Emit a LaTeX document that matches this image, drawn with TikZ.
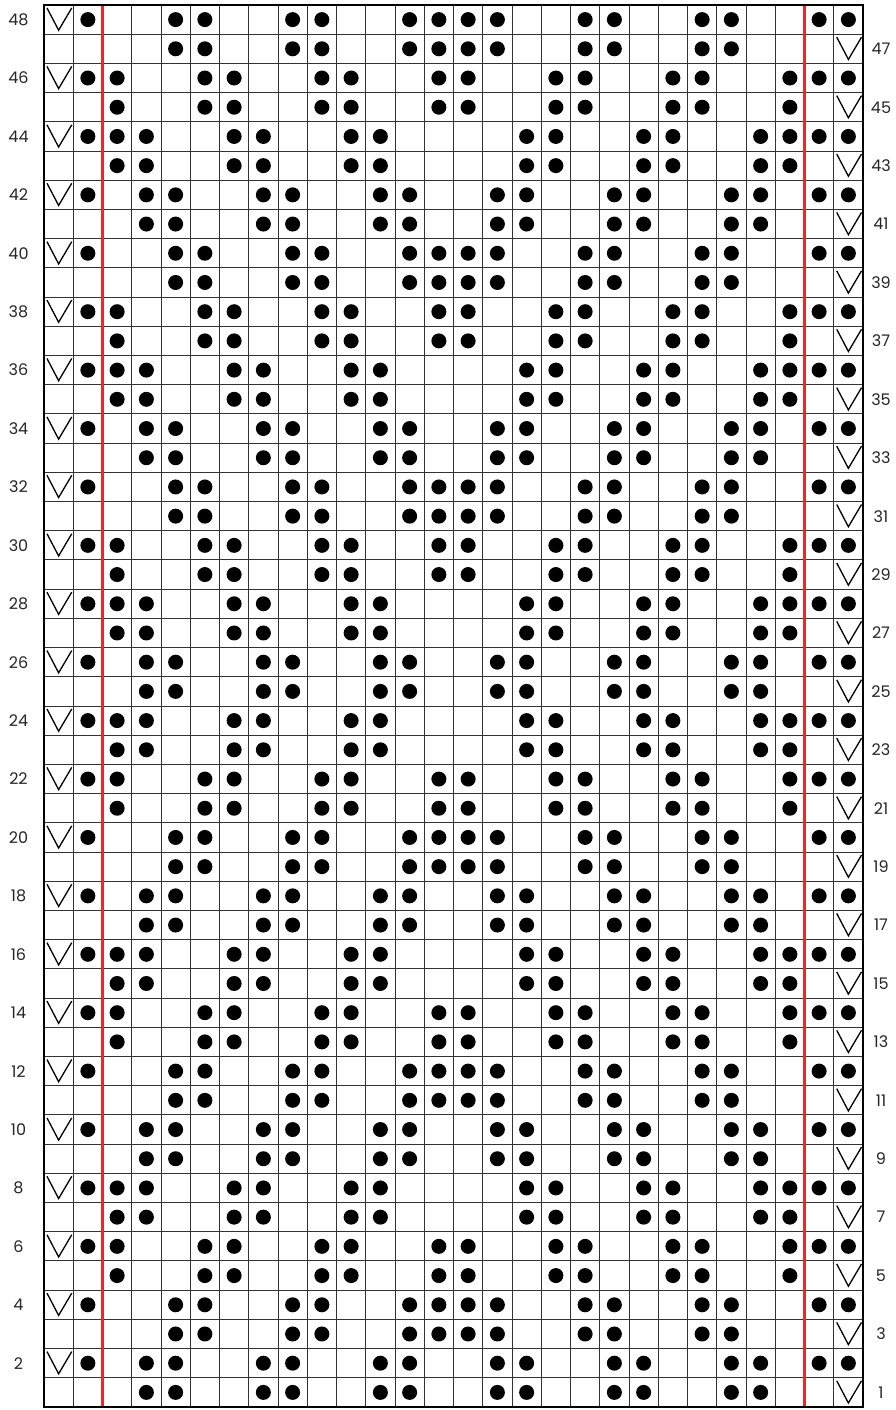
\documentclass[tikz,border=0pt]{standalone}
\usepackage{fontspec}
\setmainfont{Poppins}
\def\pA{4,5,8,9,12,13,16,17,20,21,24,25}
\def\pB{5,6,9,10,13,14,15,16,19,20,23,24}
\def\pC{3,6,7,10,11,14,15,18,19,22,23,26}
\def\pD{3,4,7,8,11,12,17,18,21,22,25,26}
\begin{document}
\begin{tikzpicture}[x=1pt,y=-1pt,
  gridline/.style={line width=1pt, draw=black!80},
  stdot/.style={fill=black},
  slipv/.style={line width=1.3pt, line join=miter, draw=black},
  redline/.style={line width=2.6pt, draw={rgb,255:red,232;green,40;blue,43}},
  border/.style={line width=2.2pt, draw=black},
  rowlabel/.style={font=\fontsize{16}{16}\selectfont, text=black!85, inner sep=0pt}]
\useasboundingbox (0,0) rectangle (896,1410);
\fill[white] (0,0) rectangle (896,1410);
\pgfmathsetmacro\w{(863-44)/28}
\pgfmathsetmacro\h{(1407-5)/48}
% grid
\foreach \i in {1,...,27} \draw[gridline] ({44+\i*\w},5) -- ({44+\i*\w},1407);
\foreach \j in {1,...,47} \draw[gridline] (44,{5+\j*\h}) -- (863,{5+\j*\h});
% pattern rows
\foreach \p/\t in {1/A,2/B,3/C,4/D,5/A,6/B,7/C,8/D,9/A,10/B,11/C,12/D,13/A,14/D,15/C,16/B,17/A,18/D,19/C,20/B,21/A,22/D,23/C,24/B}{
  \pgfmathtruncatemacro\ro{2*\p-1}
  \pgfmathtruncatemacro\re{2*\p}
  \pgfmathsetmacro\yo{5+(48-\ro+0.5)*\h}
  \pgfmathsetmacro\ye{5+(48-\re+0.5)*\h}
  \edef\lst{\csname p\t\endcsname}
  \foreach \c in \lst {
    \fill[stdot] ({44+(\c-0.5)*\w},\yo) circle (7.5pt);
    \fill[stdot] ({44+(\c-0.5)*\w},\ye) circle (7.5pt);
  }
  % even row: slip at col 1, purl at 2, 27, 28
  \foreach \c in {2,27,28} \fill[stdot] ({44+(\c-0.5)*\w},\ye) circle (7.5pt);
  \draw[slipv] ({44+3},{\ye-\h/2+3}) -- ({44+\w/2},{\ye+\h/2-4}) -- ({44+\w-1.5},{\ye-\h/2+3});
  % odd row: slip at col 28
  \draw[slipv] ({44+27*\w+3},{\yo-\h/2+3}) -- ({44+27.5*\w},{\yo+\h/2-4}) -- ({44+28*\w-1.5},{\yo-\h/2+3});
  % labels
  \node[rowlabel] (lab\re) at (18.5,\ye) {\re};
  \node[rowlabel] (lab\ro) at (881,\yo) {\ro};
}
% red repeat lines
\draw[redline] ({44+2*\w},4) -- ({44+2*\w},1408);
\draw[redline] ({44+26*\w},4) -- ({44+26*\w},1408);
% border
\draw[border] (44,5) rectangle (863,1407);
\end{tikzpicture}
\end{document}
